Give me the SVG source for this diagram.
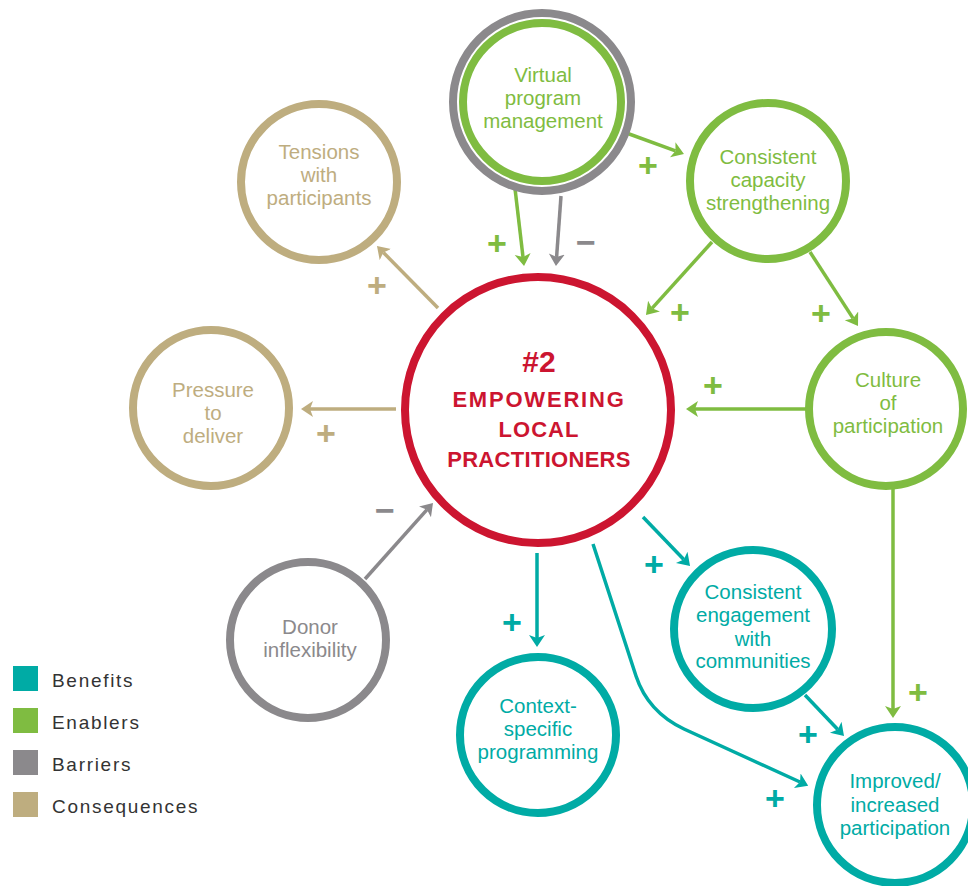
<svg xmlns="http://www.w3.org/2000/svg" width="968" height="886" viewBox="0 0 968 886">
  <defs>
    <style>
      .ring { fill: #ffffff; stroke-width: 8; }
      .lbl { font-family: "Liberation Sans", Arial, sans-serif; font-size: 20.5px; text-anchor: middle; }
      .sign { font-family: "Liberation Sans", Arial, sans-serif; font-size: 34px; font-weight: bold; text-anchor: middle; }
      .link { fill: none; stroke-width: 3.5; }
      .green { stroke: #7fbc41; }
      .gray { stroke: #8b898c; }
      .tan { stroke: #bead7f; }
      .teal { stroke: #00aba5; }
      .red { stroke: #cc1530; }
      .t-green { fill: #7fbc41; }
      .t-gray { fill: #8b898c; }
      .t-tan { fill: #bead7f; }
      .t-teal { fill: #00aba5; }
      .t-red { fill: #cc1530; }
      .legend { font-family: "Liberation Sans", Arial, sans-serif; font-size: 19px; letter-spacing: 1.7px; fill: #333333; }
    </style>
    <marker id="ah-green" markerUnits="userSpaceOnUse" markerWidth="14" markerHeight="18" refX="3" refY="8" orient="auto">
      <path d="M0,0 L12,8 L0,16 L3,8 Z" fill="#7fbc41"/>
    </marker>
    <marker id="ah-gray" markerUnits="userSpaceOnUse" markerWidth="14" markerHeight="18" refX="3" refY="8" orient="auto">
      <path d="M0,0 L12,8 L0,16 L3,8 Z" fill="#8b898c"/>
    </marker>
    <marker id="ah-tan" markerUnits="userSpaceOnUse" markerWidth="14" markerHeight="18" refX="3" refY="8" orient="auto">
      <path d="M0,0 L12,8 L0,16 L3,8 Z" fill="#bead7f"/>
    </marker>
    <marker id="ah-teal" markerUnits="userSpaceOnUse" markerWidth="14" markerHeight="18" refX="3" refY="8" orient="auto">
      <path d="M0,0 L12,8 L0,16 L3,8 Z" fill="#00aba5"/>
    </marker>
  </defs>

  <rect width="968" height="886" fill="#ffffff"/>

  <!-- connectors -->
  <g id="connectors">
    <line class="link green" x1="514" y1="180" x2="523" y2="257" marker-end="url(#ah-green)"/>
    <line class="link gray" x1="561" y1="196" x2="556.6" y2="257" marker-end="url(#ah-gray)"/>
    <line class="link green" x1="621" y1="131" x2="675.5" y2="150.9" marker-end="url(#ah-green)"/>
    <line class="link green" x1="712" y1="242" x2="652" y2="308.3" marker-end="url(#ah-green)"/>
    <line class="link green" x1="810" y1="252" x2="853.1" y2="318.4" marker-end="url(#ah-green)"/>
    <line class="link green" x1="807" y1="409" x2="695" y2="409" marker-end="url(#ah-green)"/>
    <line class="link tan" x1="438" y1="308" x2="383.3" y2="252.4" marker-end="url(#ah-tan)"/>
    <line class="link tan" x1="396" y1="409" x2="310" y2="409" marker-end="url(#ah-tan)"/>
    <line class="link gray" x1="365" y1="579" x2="427" y2="509.7" marker-end="url(#ah-gray)"/>
    <line class="link teal" x1="537" y1="553" x2="537" y2="638" marker-end="url(#ah-teal)"/>
    <line class="link teal" x1="643" y1="517" x2="683.8" y2="559.5" marker-end="url(#ah-teal)"/>
    <path class="link teal" d="M593,544 L636,676 Q648,712 684,729 L800,782" marker-end="url(#ah-teal)"/>
    <line class="link teal" x1="805" y1="695" x2="837.8" y2="729.5" marker-end="url(#ah-teal)"/>
    <line class="link green" x1="893" y1="488" x2="893" y2="709" marker-end="url(#ah-green)"/>

    <!-- polarity signs -->
    <text class="sign t-green" x="497" y="255">+</text>
    <text class="sign t-gray" x="586" y="254">−</text>
    <text class="sign t-green" x="648" y="177">+</text>
    <text class="sign t-green" x="680" y="324">+</text>
    <text class="sign t-green" x="821" y="325">+</text>
    <text class="sign t-green" x="713" y="397">+</text>
    <text class="sign t-tan" x="377" y="297">+</text>
    <text class="sign t-tan" x="326" y="445">+</text>
    <text class="sign t-gray" x="385" y="522">−</text>
    <text class="sign t-teal" x="512" y="634">+</text>
    <text class="sign t-teal" x="654" y="576">+</text>
    <text class="sign t-teal" x="775" y="810">+</text>
    <text class="sign t-teal" x="808" y="746">+</text>
    <text class="sign t-green" x="918" y="704">+</text>
  </g>

  <!-- central theme -->
  <g id="central">
    <circle class="ring red" cx="538" cy="410" r="133"/>
    <g font-family="Liberation Sans, Arial, sans-serif" font-weight="bold" text-anchor="middle" fill="#cc1530">
      <text x="539" y="372" font-size="30">#2</text>
      <text x="539" y="407" font-size="22" letter-spacing="1.8">EMPOWERING</text>
      <text x="539" y="437" font-size="22" letter-spacing="1">LOCAL</text>
      <text x="539" y="467" font-size="22" letter-spacing="0.3">PRACTITIONERS</text>
    </g>
  </g>

  <!-- enablers -->
  <g id="virtual-program-management">
    <circle class="ring gray" cx="542" cy="102" r="89"/>
    <circle class="ring green" cx="542" cy="102" r="79"/>
    <text class="lbl t-green" x="543" y="82">Virtual</text>
    <text class="lbl t-green" x="543" y="105">program</text>
    <text class="lbl t-green" x="543" y="128">management</text>
  </g>

  <g id="consistent-capacity-strengthening">
    <circle class="ring green" cx="768" cy="181" r="78"/>
    <text class="lbl t-green" x="768" y="164">Consistent</text>
    <text class="lbl t-green" x="768" y="187">capacity</text>
    <text class="lbl t-green" x="768" y="210">strengthening</text>
  </g>

  <g id="culture-of-participation">
    <circle class="ring green" cx="886" cy="409" r="77"/>
    <text class="lbl t-green" x="888" y="387">Culture</text>
    <text class="lbl t-green" x="888" y="410">of</text>
    <text class="lbl t-green" x="888" y="433">participation</text>
  </g>

  <!-- consequences -->
  <g id="tensions-with-participants">
    <circle class="ring tan" cx="319" cy="182" r="78"/>
    <text class="lbl t-tan" x="319" y="159">Tensions</text>
    <text class="lbl t-tan" x="319" y="182">with</text>
    <text class="lbl t-tan" x="319" y="205">participants</text>
  </g>

  <g id="pressure-to-deliver">
    <circle class="ring tan" cx="211" cy="408" r="78"/>
    <text class="lbl t-tan" x="213" y="397">Pressure</text>
    <text class="lbl t-tan" x="213" y="420">to</text>
    <text class="lbl t-tan" x="213" y="443">deliver</text>
  </g>

  <!-- barriers -->
  <g id="donor-inflexibility">
    <circle class="ring gray" cx="308" cy="640" r="78"/>
    <text class="lbl t-gray" x="310" y="634">Donor</text>
    <text class="lbl t-gray" x="310" y="657">inflexibility</text>
  </g>

  <!-- benefits -->
  <g id="context-specific-programming">
    <circle class="ring teal" cx="538" cy="735" r="78"/>
    <text class="lbl t-teal" x="538" y="713">Context-</text>
    <text class="lbl t-teal" x="538" y="736">specific</text>
    <text class="lbl t-teal" x="538" y="759">programming</text>
  </g>

  <g id="consistent-engagement">
    <circle class="ring teal" cx="753" cy="629" r="79"/>
    <text class="lbl t-teal" x="753" y="599">Consistent</text>
    <text class="lbl t-teal" x="753" y="622">engagement</text>
    <text class="lbl t-teal" x="753" y="646">with</text>
    <text class="lbl t-teal" x="753" y="668">communities</text>
  </g>

  <g id="improved-participation">
    <circle class="ring teal" cx="895" cy="805" r="78"/>
    <text class="lbl t-teal" x="895" y="788">Improved/</text>
    <text class="lbl t-teal" x="895" y="812">increased</text>
    <text class="lbl t-teal" x="895" y="835">participation</text>
  </g>

  <!-- legend -->
  <g id="legend">
    <rect x="13" y="666" width="25" height="25" fill="#00aba5"/>
    <rect x="13" y="708" width="25" height="25" fill="#7fbc41"/>
    <rect x="13" y="750" width="25" height="25" fill="#8b898c"/>
    <rect x="13" y="792" width="25" height="25" fill="#bead7f"/>
    <text class="legend" x="52" y="687">Benefits</text>
    <text class="legend" x="52" y="729">Enablers</text>
    <text class="legend" x="52" y="771">Barriers</text>
    <text class="legend" x="52" y="813">Consequences</text>
  </g>
</svg>
